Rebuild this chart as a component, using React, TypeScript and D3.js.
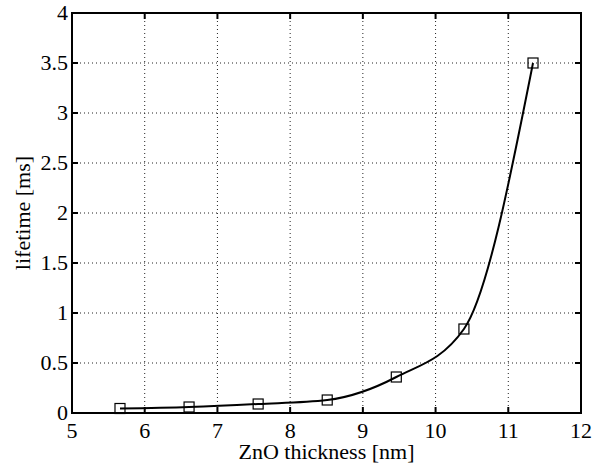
import React from "react";
import * as d3 from "d3";

const WIDTH = 603;
const HEIGHT = 464;
const MARGIN = { top: 13, right: 22, bottom: 51, left: 72 };

// ZnO thickness [nm] vs measured lifetime [ms]
const thickness = [5.66, 6.61, 7.56, 8.51, 9.46, 10.39, 11.34];
const lifetime = [0.045, 0.06, 0.09, 0.13, 0.36, 0.84, 3.5];

const xTicks = [5, 6, 7, 8, 9, 10, 11, 12];
const yTicks = [0, 0.5, 1, 1.5, 2, 2.5, 3, 3.5, 4];

const FONT = "Liberation Serif";
const TICK = 6;

export default function App() {
  const boundsWidth = WIDTH - MARGIN.left - MARGIN.right;
  const boundsHeight = HEIGHT - MARGIN.top - MARGIN.bottom;

  const xScale = d3.scaleLinear().domain([5, 12]).range([0, boundsWidth]);
  const yScale = d3.scaleLinear().domain([0, 4]).range([boundsHeight, 0]);

  const points = thickness.map((x, i) => [x, lifetime[i]] as [number, number]);

  const lineGen = d3
    .line<[number, number]>()
    .x((d) => xScale(d[0]))
    .y((d) => yScale(d[1]))
    .curve(d3.curveMonotoneX);

  const fmt = (v: number) => String(v);

  return (
    <svg
      width={WIDTH}
      height={HEIGHT}
      style={{ position: "absolute", left: 0, top: 0, background: "#fff" }}
    >
      <rect width={WIDTH} height={HEIGHT} fill="#fff" />
      <g
        transform={`translate(${MARGIN.left},${MARGIN.top})`}
        style={{ fontFamily: FONT }}
      >
        {/* dotted grid */}
        {xTicks.slice(1, -1).map((t) => (
          <line
            key={"gx" + t}
            x1={xScale(t)}
            x2={xScale(t)}
            y1={0}
            y2={boundsHeight}
            stroke="#222"
            strokeWidth={1}
            strokeDasharray="1,3"
          />
        ))}
        {yTicks.slice(1, -1).map((t) => (
          <line
            key={"gy" + t}
            x1={0}
            x2={boundsWidth}
            y1={yScale(t)}
            y2={yScale(t)}
            stroke="#222"
            strokeWidth={1}
            strokeDasharray="1,3"
          />
        ))}

        {/* ticks on all four sides, pointing inward */}
        {xTicks.map((t) => (
          <g key={"tx" + t} stroke="#000" strokeWidth={2}>
            <line x1={xScale(t)} x2={xScale(t)} y1={boundsHeight} y2={boundsHeight - TICK} />
            <line x1={xScale(t)} x2={xScale(t)} y1={0} y2={TICK} />
          </g>
        ))}
        {yTicks.map((t) => (
          <g key={"ty" + t} stroke="#000" strokeWidth={2}>
            <line x1={0} x2={TICK} y1={yScale(t)} y2={yScale(t)} />
            <line x1={boundsWidth} x2={boundsWidth - TICK} y1={yScale(t)} y2={yScale(t)} />
          </g>
        ))}

        {/* fitted curve */}
        <path d={lineGen(points) ?? ""} fill="none" stroke="#000" strokeWidth={2} />

        {/* square markers */}
        {points.map((d, i) => (
          <rect
            key={"m" + i}
            x={xScale(d[0]) - 5}
            y={yScale(d[1]) - 5}
            width={10}
            height={10}
            fill="none"
            stroke="#000"
            strokeWidth={1.2}
          />
        ))}

        {/* axes box */}
        <rect
          x={0}
          y={0}
          width={boundsWidth}
          height={boundsHeight}
          fill="none"
          stroke="#000"
          strokeWidth={2}
        />

        {/* tick labels */}
        {xTicks.map((t) => (
          <text
            key={"lx" + t}
            x={xScale(t)}
            y={boundsHeight + 25}
            textAnchor="middle"
            fontSize={22}
            fill="#000"
          >
            {fmt(t)}
          </text>
        ))}
        {yTicks.map((t) => (
          <text
            key={"ly" + t}
            x={-4}
            y={yScale(t)}
            dy="0.34em"
            textAnchor="end"
            fontSize={22}
            fill="#000"
          >
            {fmt(t)}
          </text>
        ))}

        {/* axis titles */}
        <text
          x={boundsWidth / 2}
          y={boundsHeight + 46}
          textAnchor="middle"
          fontSize={22}
          fill="#000"
        >
          ZnO thickness [nm]
        </text>
        <text
          transform={`translate(${30 - MARGIN.left},${boundsHeight / 2}) rotate(-90)`}
          textAnchor="middle"
          fontSize={22}
          fill="#000"
        >
          lifetime [ms]
        </text>
      </g>
    </svg>
  );
}
